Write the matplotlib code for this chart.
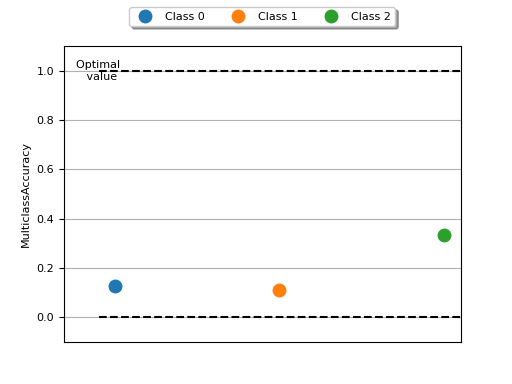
import matplotlib
matplotlib.use("Agg")
import matplotlib.pyplot as plt

# per-class accuracy values
class_names = ["Class 0", "Class 1", "Class 2"]
class_values = [0.125, 0.11, 0.333]
optimal_value = 1.0
worst_value = 0.0

fig, ax = plt.subplots(figsize=(5.12, 3.84), dpi=100)

for i, (name, val) in enumerate(zip(class_names, class_values)):
    ax.plot(i, val, marker="o", markersize=9, linestyle="", label=name)

ax.set_xlim(-0.31, 2.104)
ax.set_ylim(-0.1, 1.1)

ax.hlines(optimal_value, -0.1, 2.104, linestyle="dashed", colors="k")
ax.hlines(worst_value, -0.1, 2.104, linestyle="dashed", colors="k")
ax.text(-0.09, optimal_value, "Optimal \n value", ha="center", va="center", fontsize=8)

ax.set_xticks([])
ax.set_ylabel("MulticlassAccuracy", fontsize=8)
ax.tick_params(axis="y", labelsize=8)
ax.grid(True, axis="y", color="#b0b0b0")
ax.set_axisbelow(True)

ax.legend(loc="upper center", bbox_to_anchor=(0.5, 1.15), ncol=3,
          fancybox=True, shadow=True, fontsize=8)

fig.savefig("out.png", dpi=100)
